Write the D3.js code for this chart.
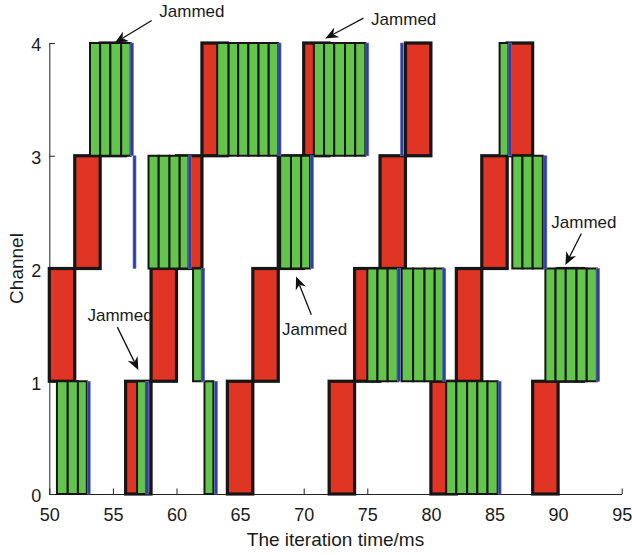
<!DOCTYPE html>
<html>
<head>
<meta charset="utf-8">
<script src="https://cdn.jsdelivr.net/npm/d3@7"></script>
<style>
  body { margin: 0; background: #fff; }
  text { font-family: "Liberation Sans", Arial, sans-serif; fill: #1a1a1a; }
</style>
</head>
<body>
<div id="chart"></div>
<script>
// user hops: start (ms), end (ms), channel
var hops = [
  [50, 52, 1], [52, 54, 2], [54, 56, 3], [56, 58, 0], [58, 60, 1],
  [60, 62, 2], [62, 64, 3], [64, 66, 0], [66, 68, 1], [68, 70, 2],
  [70, 72, 3], [72, 74, 0], [74, 76, 1], [76, 78, 2], [78, 80, 3],
  [80, 82, 0], [82, 84, 1], [84, 86, 2], [86, 88, 3], [88, 90, 0],
  [90, 92, 1]
];

// jammer slots: start, end, channel
var jamSlots = [
  [50.6, 51.45, 0], [51.45, 52.25, 0], [52.25, 52.95, 0],
  [56.9, 57.6, 0],
  [62.2, 62.9, 0],
  [81.2, 82.0, 0], [82.0, 82.85, 0], [82.85, 83.65, 0], [83.65, 84.45, 0], [84.45, 85.25, 0],
  [61.3, 62.0, 1],
  [75.0, 75.8, 1], [75.8, 76.6, 1], [76.6, 77.4, 1],
  [77.7, 78.6, 1], [78.6, 79.5, 1], [79.5, 80.3, 1], [80.3, 81.0, 1],
  [89.0, 89.8, 1], [89.8, 90.6, 1], [90.6, 91.45, 1], [91.45, 92.25, 1], [92.25, 93.05, 1],
  [57.8, 58.6, 2], [58.6, 59.45, 2], [59.45, 60.25, 2], [60.25, 60.95, 2],
  [68.15, 69.0, 2], [69.0, 69.8, 2], [69.8, 70.5, 2],
  [86.4, 87.2, 2], [87.2, 88.0, 2], [88.0, 88.8, 2],
  [53.2, 54.0, 3], [54.0, 54.8, 3], [54.8, 55.65, 3], [55.65, 56.4, 3],
  [63.2, 64.1, 3], [64.1, 64.85, 3], [64.85, 65.65, 3], [65.65, 66.45, 3], [66.45, 67.25, 3], [67.25, 68.0, 3],
  [70.8, 71.6, 3], [71.6, 72.4, 3], [72.4, 73.25, 3], [73.25, 74.05, 3], [74.05, 74.85, 3],
  [85.4, 86.1, 3]
];

// jammer switch marks: time, channel
var jamEnds = [
  [53.1, 0], [57.7, 0], [63.1, 0], [85.4, 0],
  [62.1, 1], [77.5, 1], [81.05, 1], [93.15, 1],
  [56.7, 2], [61.05, 2], [70.65, 2], [89.0, 2],
  [56.5, 3], [68.1, 3], [75.0, 3], [77.72, 3], [86.22, 3]
];

// annotations: text t, text channel, arrow from t, from channel, to t, to channel
var notes = [
  [58.65, 4.23, 58.05, 4.2, 55.15, 4.0],
  [75.3, 4.16, 74.7, 4.22, 71.7, 4.04],
  [53.0, 1.53, 55.35, 1.48, 57.0, 1.1],
  [68.3, 1.41, 70.6, 1.59, 69.4, 1.93],
  [89.47, 2.36, 91.83, 2.31, 90.57, 2.03]
];

var xTicks = [50, 55, 60, 65, 70, 75, 80, 85, 90, 95],
    yTicks = [0, 1, 2, 3, 4];

var margin = { top: 43, right: 10, bottom: 61, left: 49.3 },
    width = 632 - margin.left - margin.right - 0.3,
    height = 555 - margin.top - margin.bottom;

var svg = d3.select("#chart").append("svg")
    .attr("width", 632)
    .attr("height", 555)
    .append("g")
    .attr("transform", "translate(" + margin.left + "," + margin.top + ")");

var x = d3.scaleLinear().domain([50, 95]).range([0, width]);
var y = d3.scaleLinear().domain([0, 4]).range([height, 0]);

// axes
var xAxis = svg.append("g")
    .attr("transform", "translate(0," + height + ")")
    .call(d3.axisBottom(x).tickValues(xTicks).tickFormat(d3.format("d"))
      .tickSizeInner(-5.5).tickSizeOuter(0).tickPadding(14));

var yAxis = svg.append("g")
    .call(d3.axisLeft(y).tickValues(yTicks).tickFormat(d3.format("d"))
      .tickSizeInner(-5.5).tickSizeOuter(0).tickPadding(8));

[xAxis, yAxis].forEach(function(a) {
  a.attr("font-size", 18).attr("font-family", "Liberation Sans, Arial, sans-serif");
  a.selectAll("path, line").attr("stroke", "#222");
  a.selectAll("text").attr("fill", "#1a1a1a");
});
yAxis.selectAll("text").attr("dy", "0.43em");

svg.append("text")
    .attr("x", width / 2)
    .attr("y", height + 52)
    .attr("text-anchor", "middle")
    .attr("font-size", 19)
    .text("The iteration time/ms");

svg.append("text")
    .attr("transform", "translate(" + (23 - margin.left) + "," + (268.5 - margin.top) + ") rotate(-90)")
    .attr("text-anchor", "middle")
    .attr("font-size", 19)
    .text("Channel");

// annotation labels sit under the blocks
svg.selectAll(".noteLabel")
    .data(notes)
    .enter().append("text")
      .attr("class", "noteLabel")
      .attr("x", function(d) { return x(d[0]); })
      .attr("y", function(d) { return y(d[1]); })
      .attr("font-size", 17)
      .text("Jammed");

svg.selectAll(".hop")
    .data(hops)
    .enter().append("rect")
      .attr("class", "hop")
      .attr("x", function(d) { return x(d[0]); })
      .attr("y", function(d) { return y(d[2] + 1); })
      .attr("width", function(d) { return x(d[1]) - x(d[0]); })
      .attr("height", function(d) { return y(d[2]) - y(d[2] + 1); })
      .style("fill", "#e03424")
      .style("stroke", "#161616")
      .style("stroke-width", 3.2);

svg.selectAll(".jam")
    .data(jamSlots)
    .enter().append("rect")
      .attr("class", "jam")
      .attr("x", function(d) { return x(d[0]); })
      .attr("y", function(d) { return y(d[2] + 1); })
      .attr("width", function(d) { return x(d[1]) - x(d[0]); })
      .attr("height", function(d) { return y(d[2]) - y(d[2] + 1); })
      .style("fill", "#63c54c")
      .style("stroke", "#161616")
      .style("stroke-width", 2);

svg.selectAll(".jamEnd")
    .data(jamEnds)
    .enter().append("rect")
      .attr("class", "jamEnd")
      .attr("x", function(d) { return x(d[0]) - 1.5; })
      .attr("y", function(d) { return y(d[1] + 1); })
      .attr("width", 3)
      .attr("height", function(d) { return y(d[1]) - y(d[1] + 1); })
      .style("fill", "#2e3f9e")
      .style("stroke", "#6878c4")
      .style("stroke-width", 0.6);

// arrows
notes.forEach(function(d) {
  var x0 = x(d[2]), y0 = y(d[3]), x1 = x(d[4]), y1 = y(d[5]);
  var len = Math.sqrt((x1 - x0) * (x1 - x0) + (y1 - y0) * (y1 - y0));
  var ux = (x1 - x0) / len, uy = (y1 - y0) / len;
  var nx = -uy, ny = ux;
  var L = 13, W = 5.5, notch = 4;
  svg.append("line")
      .attr("x1", x0)
      .attr("y1", y0)
      .attr("x2", x1 - ux * (L - notch))
      .attr("y2", y1 - uy * (L - notch))
      .style("stroke", "#111")
      .style("stroke-width", 1.3);
  svg.append("path")
      .attr("d", "M" + x1 + "," + y1 +
        "L" + (x1 - ux * L + nx * W) + "," + (y1 - uy * L + ny * W) +
        "L" + (x1 - ux * (L - notch)) + "," + (y1 - uy * (L - notch)) +
        "L" + (x1 - ux * L - nx * W) + "," + (y1 - uy * L - ny * W) + "Z")
      .style("fill", "#111");
});
</script>
</body>
</html>
